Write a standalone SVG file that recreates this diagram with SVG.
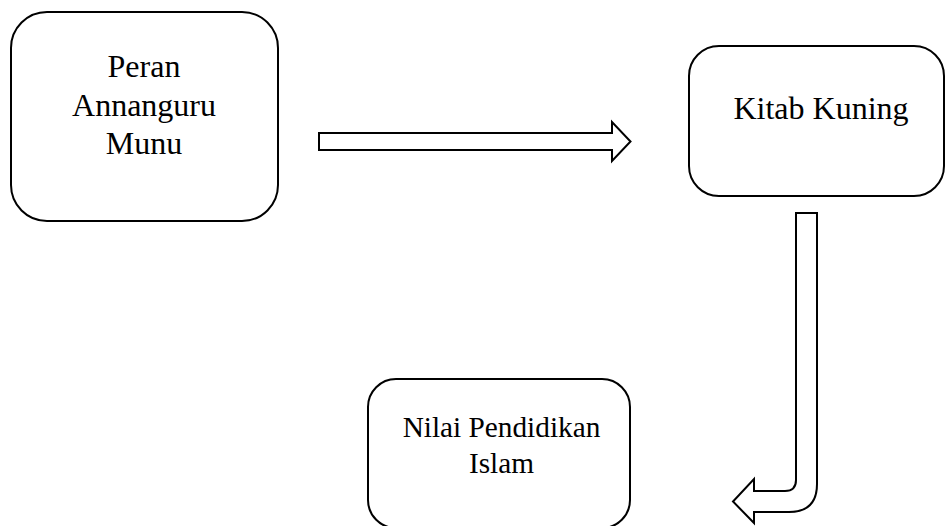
<svg xmlns="http://www.w3.org/2000/svg" width="946" height="526" viewBox="0 0 946 526">
<style>
.box{fill:#fff;stroke:#000;stroke-width:2}
.arr{fill:#fff;stroke:#000;stroke-width:2;stroke-linejoin:miter}
text{font-family:"Liberation Serif","Times New Roman",serif;fill:#000;text-anchor:middle}
.t32{font-size:32px}
.t29{font-size:29.3px}
</style>
<rect width="946" height="526" fill="#fff"/>
<g id="node-peran">
<rect class="box" x="11" y="12" width="267" height="209" rx="36" ry="36"/>
<text class="t32" x="144" y="77">Peran</text>
<text class="t32" x="144" y="115.5">Annanguru</text>
<text class="t32" x="144" y="154">Munu</text>
</g>
<g id="node-kitab">
<rect class="box" x="689" y="46" width="255" height="150" rx="30" ry="30"/>
<text class="t32" x="821" y="119">Kitab Kuning</text>
</g>
<g id="node-nilai">
<rect class="box" x="368" y="379" width="262" height="149" rx="28" ry="28"/>
<text class="t29" x="501.5" y="436.5">Nilai Pendidikan</text>
<text class="t29" x="501.5" y="472.5">Islam</text>
</g>
<g id="connectors">
<path class="arr" d="M319,133 L612,133 L612,122 L630.5,141.5 L612,161 L612,150 L319,150 Z"/>
<path class="arr" d="M796,213 L817,213 L817,484 Q817,512 789,512 L754,512 L754,523 L733,501.5 L754,479 L754,491 L785,491 Q796,491 796,480 Z"/>
</g>
</svg>
